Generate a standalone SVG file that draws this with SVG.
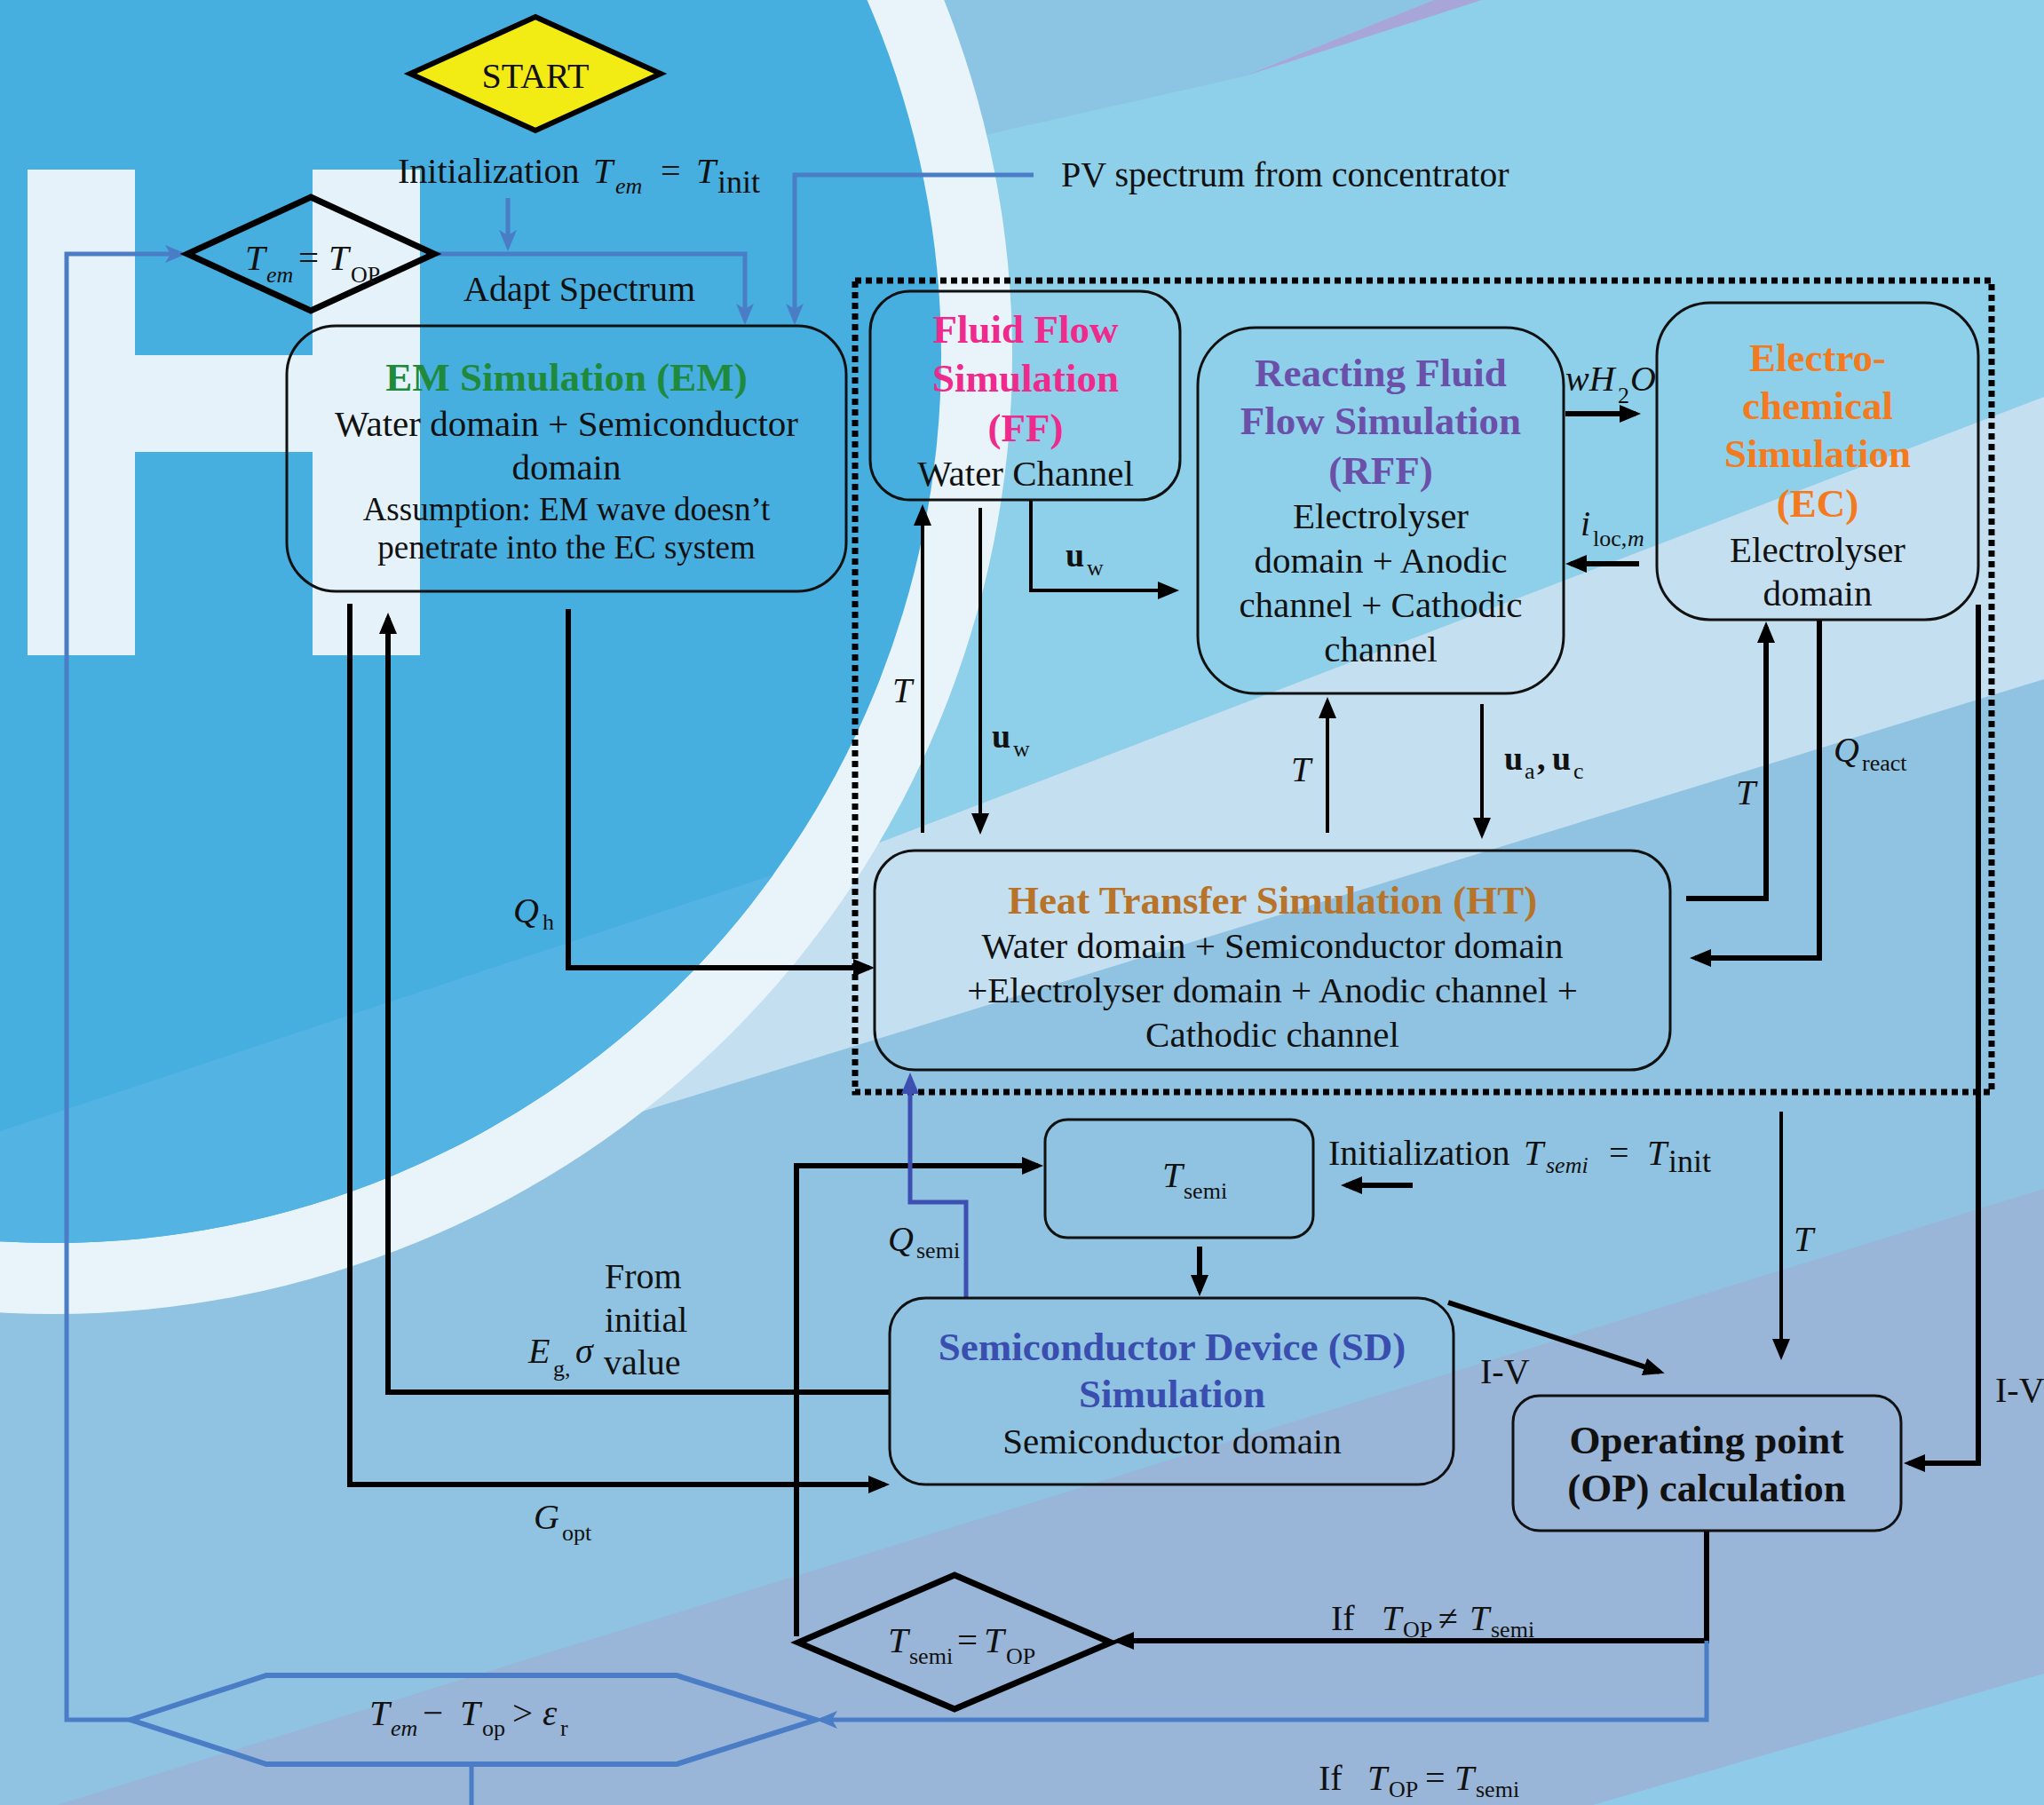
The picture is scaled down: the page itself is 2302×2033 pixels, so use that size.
<svg xmlns="http://www.w3.org/2000/svg" width="2302" height="2033" viewBox="0 0 2302 2033">
<style>
text{font-family:"Liberation Serif","Times New Roman",serif;fill:#111}
.r{font-size:41px}
.m{font-size:40px}
.b{font-size:45px;font-weight:bold}
.c{text-anchor:middle}
.i{font-style:italic}
.s{font-size:26px}
.ub{font-weight:bold;font-size:38px}
.box{fill:none;stroke:#111;stroke-width:3}
.ln{fill:none;stroke:#000;stroke-width:6}
.lt{fill:none;stroke:#000;stroke-width:4}
.bl{fill:none;stroke:#4a7dc6;stroke-width:5}
.dec{fill:none;stroke:#000;stroke-width:7;stroke-linejoin:miter}
</style>
<defs>
<marker id="ah" viewBox="0 0 12 10" refX="9" refY="5" markerWidth="24" markerHeight="20" orient="auto" markerUnits="userSpaceOnUse"><path d="M0,0 L12,5 L0,10 z" fill="#000"/></marker>
<marker id="ab" viewBox="0 0 12 10" refX="9" refY="5" markerWidth="24" markerHeight="20" orient="auto" markerUnits="userSpaceOnUse"><path d="M0,0 L12,5 L0,10 L3,5 z" fill="#4a7dc6"/></marker>
<marker id="ai" viewBox="0 0 12 10" refX="9" refY="5" markerWidth="24" markerHeight="20" orient="auto" markerUnits="userSpaceOnUse"><path d="M0,0 L12,5 L0,10 z" fill="#3d4fb0"/></marker>
<clipPath id="circ"><circle cx="60" cy="400" r="1000"/></clipPath>
</defs>

<g id="background">
<rect width="2302" height="2033" fill="#8fc3e1"/>
<polygon points="0,0 2302,0 2302,447 0,1328" fill="#8ecfe9"/>
<polygon points="2302,447 2302,765 0,1475 0,1328" fill="#c4dff0"/>
<polygon points="1050,0 1615,0 1401,86 1061,163" fill="#8cc5e3"/>
<polygon points="1401,86 1615,0 1669,0" fill="#a8a6d8"/>
<polygon points="0,2053 2302,1339 2302,2033 0,2033" fill="#99b5d8"/>
<polygon points="1794,2033 2302,1885 2302,2033" fill="#8fcbe8"/>
<circle cx="60" cy="400" r="1080" fill="#e9f4fa"/>
<circle cx="60" cy="400" r="1000" fill="#47aee0"/>
<polygon clip-path="url(#circ)" points="0,1274 1300,843 1300,2033 0,2033" fill="#53b3e3"/>
<rect x="31" y="191" width="121" height="547" fill="#e5f2f9"/>
<rect x="152" y="400" width="200" height="109" fill="#e5f2f9"/>
<rect x="352" y="191" width="121" height="547" fill="#e5f2f9"/>
</g>

<g id="connectors">
<rect x="963" y="316" width="1280" height="914" fill="none" stroke="#000" stroke-width="7" stroke-dasharray="7 5"/>
<path class="lt" d="M1161,563 V665 H1322" marker-end="url(#ah)"/>
<path class="lt" d="M1039,938 V574" marker-end="url(#ah)"/>
<path class="lt" d="M1104,572 V934" marker-end="url(#ah)"/>
<path class="lt" d="M1495,938 V791" marker-end="url(#ah)"/>
<path class="lt" d="M1669,793 V939" marker-end="url(#ah)"/>
<path class="ln" d="M1763,466 H1842" marker-end="url(#ah)"/>
<path class="ln" d="M1846,635 H1769" marker-end="url(#ah)"/>
<path class="ln" d="M1899,1012 H1989 V706" marker-end="url(#ah)"/>
<path class="ln" d="M2049,698 V1079 H1909" marker-end="url(#ah)"/>
<path class="ln" d="M2228,681 V1648 H2150" marker-end="url(#ah)"/>
<path class="lt" d="M2006,1252 V1526" marker-end="url(#ah)"/>
<path class="ln" d="M1631,1467 L1869,1545" marker-end="url(#ah)"/>
<path class="ln" d="M640,686 V1090 H979" marker-end="url(#ah)"/>
<path class="ln" d="M394,680 V1672 H996" marker-end="url(#ah)"/>
<path class="ln" d="M1002,1568 H437 V696" marker-end="url(#ah)"/>
<path class="ln" d="M1591,1335 H1516" marker-end="url(#ah)"/>
<path class="ln" d="M897,1843 V1313 H1169" marker-end="url(#ah)"/>
<path class="ln" d="M1351,1404 V1454" marker-end="url(#ah)"/>
<path class="ln" d="M1922,1724 V1848 H1259" marker-end="url(#ah)"/>
<path class="bl" d="M572,223 V277" marker-end="url(#ab)"/>
<path class="bl" d="M489,286 H839 V360" marker-end="url(#ab)"/>
<path class="bl" d="M1164,197 H895 V360" marker-end="url(#ab)"/>
<path class="bl" d="M147,1937 H75 V286 H204" marker-end="url(#ab)"/>
<path class="bl" d="M1922,1848 V1937 H925" marker-end="url(#ab)"/>
<path class="bl" d="M531,1987 V2033"/>
<path fill="none" stroke="#3d4fb0" stroke-width="5" d="M1088,1461 V1354 H1025 V1214" marker-end="url(#ai)"/>
</g>

<g id="n-start">
<polygon points="603,19 744,83 603,147 462,83" fill="#f2eb14" stroke="#000" stroke-width="6"/>
<text class="m c" x="603" y="99">START</text>
</g>

<g id="n-tem-dec">
<polygon class="dec" points="350,222 489,286 350,350 211,286"/>
<text class="r"><tspan class="i" x="276" y="304">T</tspan><tspan class="i s" x="300" y="318">em</tspan><tspan x="336" y="304">=</tspan><tspan class="i" x="370" y="304">T</tspan><tspan class="s" x="395" y="318">OP</tspan></text>
</g>

<g id="n-em">
<rect class="box" x="323" y="367" width="630" height="299" rx="55"/>
<text class="b c" x="638" y="440" style="fill:#1f8a3b">EM Simulation (EM)</text>
<text class="r c" x="638" y="491">Water domain + Semiconductor</text>
<text class="r c" x="638" y="540">domain</text>
<text class="c" x="638" y="586" style="font-size:37px">Assumption: EM wave doesn’t</text>
<text class="c" x="638" y="629" style="font-size:37px">penetrate into the EC system</text>
</g>

<g id="n-ff">
<rect class="box" x="980" y="328" width="349" height="235" rx="45"/>
<text class="b c" x="1155" y="386" style="fill:#ee2a8c">Fluid Flow</text>
<text class="b c" x="1155" y="441" style="fill:#ee2a8c">Simulation</text>
<text class="b c" x="1155" y="497" style="fill:#ee2a8c">(FF)</text>
<text class="r c" x="1155" y="547">Water Channel</text>
</g>

<g id="n-rff">
<rect class="box" x="1349" y="369" width="412" height="412" rx="65"/>
<text class="b c" x="1555" y="435" style="fill:#6a50a8">Reacting Fluid</text>
<text class="b c" x="1555" y="489" style="fill:#6a50a8">Flow Simulation</text>
<text class="b c" x="1555" y="545" style="fill:#6a50a8">(RFF)</text>
<text class="r c" x="1555" y="595">Electrolyser</text>
<text class="r c" x="1555" y="645">domain + Anodic</text>
<text class="r c" x="1555" y="695">channel + Cathodic</text>
<text class="r c" x="1555" y="745">channel</text>
</g>

<g id="n-ec">
<rect class="box" x="1866" y="341" width="362" height="357" rx="60"/>
<text class="b c" x="2047" y="418" style="fill:#f47a20">Electro-</text>
<text class="b c" x="2047" y="472" style="fill:#f47a20">chemical</text>
<text class="b c" x="2047" y="526" style="fill:#f47a20">Simulation</text>
<text class="b c" x="2047" y="582" style="fill:#f47a20">(EC)</text>
<text class="r c" x="2047" y="633">Electrolyser</text>
<text class="r c" x="2047" y="682">domain</text>
</g>

<g id="n-ht">
<rect class="box" x="985" y="958" width="896" height="247" rx="45"/>
<text class="b c" x="1433" y="1029" style="fill:#b8732a">Heat Transfer Simulation (HT)</text>
<text class="r c" x="1433" y="1079">Water domain + Semiconductor domain</text>
<text class="r c" x="1433" y="1129">+Electrolyser domain + Anodic channel +</text>
<text class="r c" x="1433" y="1179">Cathodic channel</text>
</g>

<g id="n-tsemi">
<rect class="box" x="1177" y="1261" width="302" height="133" rx="25"/>
<text class="r"><tspan class="i" x="1309" y="1337">T</tspan><tspan class="s" x="1333" y="1350">semi</tspan></text>
</g>

<g id="n-sd">
<rect class="box" x="1002" y="1462" width="635" height="210" rx="40"/>
<text class="b c" x="1320" y="1532" style="fill:#3a4eb0">Semiconductor Device (SD)</text>
<text class="b c" x="1320" y="1585" style="fill:#3a4eb0">Simulation</text>
<text class="r c" x="1320" y="1637">Semiconductor domain</text>
</g>

<g id="n-op">
<rect class="box" x="1704" y="1572" width="437" height="152" rx="30"/>
<text class="b c" x="1922" y="1637">Operating point</text>
<text class="b c" x="1922" y="1691">(OP) calculation</text>
</g>

<g id="n-tsemi-dec">
<polygon class="dec" points="1075,1774 1251,1850 1075,1925 899,1850"/>
<text class="r"><tspan class="i" x="1000" y="1861">T</tspan><tspan class="s" x="1024" y="1874">semi</tspan><tspan x="1078" y="1861">=</tspan><tspan class="i" x="1108" y="1861">T</tspan><tspan class="s" x="1133" y="1874">OP</tspan></text>
</g>

<g id="n-hex">
<polygon points="147,1937 300,1887 762,1887 919,1937 762,1987 300,1987" fill="none" stroke="#4a7dc6" stroke-width="6"/>
<text class="r"><tspan class="i" x="416" y="1943">T</tspan><tspan class="i s" x="440" y="1955">em</tspan><tspan x="476" y="1943">−</tspan><tspan class="i" x="518" y="1943">T</tspan><tspan class="s" x="543" y="1955">op</tspan><tspan x="577" y="1943">&gt;</tspan><tspan class="i" x="611" y="1943">ε</tspan><tspan class="s" x="631" y="1955">r</tspan></text>
</g>

<g id="labels">
<text class="m"><tspan x="448" y="206">Initialization</tspan><tspan class="i" x="668" y="206">T</tspan><tspan class="i s" x="693" y="218">em</tspan><tspan x="744" y="206">=</tspan><tspan class="i" x="784" y="206">T</tspan><tspan x="808" y="217" style="font-size:36px">init</tspan></text>
<text class="m" x="522" y="339">Adapt Spectrum</text>
<text class="m" x="1195" y="210">PV spectrum from concentrator</text>
<text class="m"><tspan class="i" x="1763" y="440">wH</tspan><tspan class="s" x="1822" y="454">2</tspan><tspan class="i" x="1836" y="440">O</tspan></text>
<text class="m"><tspan class="i" x="1780" y="603">i</tspan><tspan class="s" x="1794" y="615">loc,</tspan><tspan class="s i" x="1833" y="615">m</tspan></text>
<text><tspan class="ub" x="1200" y="638">u</tspan><tspan class="s" x="1224" y="648">w</tspan></text>
<text><tspan class="ub" x="1117" y="842">u</tspan><tspan class="s" x="1141" y="852">w</tspan></text>
<text class="m i" x="1005" y="791">T</text>
<text class="m i" x="1454" y="880">T</text>
<text><tspan class="ub" x="1694" y="867">u</tspan><tspan class="s" x="1717" y="877">a</tspan><tspan class="ub" x="1731" y="867">,</tspan><tspan class="ub" x="1748" y="867">u</tspan><tspan class="s" x="1772" y="877">c</tspan></text>
<text class="m i" x="1955" y="906">T</text>
<text class="m"><tspan class="i" x="2065" y="858">Q</tspan><tspan class="s" x="2097" y="868">react</tspan></text>
<text class="m"><tspan class="i" x="578" y="1039">Q</tspan><tspan class="s" x="611" y="1047">h</tspan></text>
<text class="m"><tspan class="i" x="1000" y="1409">Q</tspan><tspan class="s" x="1032" y="1417">semi</tspan></text>
<text class="m" x="681" y="1451">From</text>
<text class="m" x="681" y="1500">initial</text>
<text class="m"><tspan class="i" x="595" y="1535">E</tspan><tspan class="s" x="623" y="1550">g,</tspan><tspan class="i" x="648" y="1535">σ</tspan><tspan x="680" y="1548">value</tspan></text>
<text class="m"><tspan class="i" x="601" y="1722">G</tspan><tspan class="s" x="633" y="1735">opt</tspan></text>
<text class="m i" x="2020" y="1409">T</text>
<text class="m" x="1667" y="1558">I-V</text>
<text class="m" x="2247" y="1579">I-V</text>
<text class="m"><tspan x="1496" y="1312">Initialization</tspan><tspan class="i" x="1716" y="1312">T</tspan><tspan class="i s" x="1741" y="1321">semi</tspan><tspan x="1812" y="1312">=</tspan><tspan class="i" x="1855" y="1312">T</tspan><tspan x="1879" y="1320" style="font-size:36px">init</tspan></text>
<text class="m"><tspan x="1499" y="1836">If</tspan><tspan class="i" x="1556" y="1836">T</tspan><tspan class="s" x="1580" y="1844">OP</tspan><tspan x="1620" y="1836">≠</tspan><tspan class="i" x="1655" y="1836">T</tspan><tspan class="s" x="1679" y="1844">semi</tspan></text>
<text class="m"><tspan x="1485" y="2016">If</tspan><tspan class="i" x="1540" y="2016">T</tspan><tspan class="s" x="1564" y="2024">OP</tspan><tspan x="1605" y="2016">=</tspan><tspan class="i" x="1638" y="2016">T</tspan><tspan class="s" x="1662" y="2024">semi</tspan></text>
</g>
</svg>
